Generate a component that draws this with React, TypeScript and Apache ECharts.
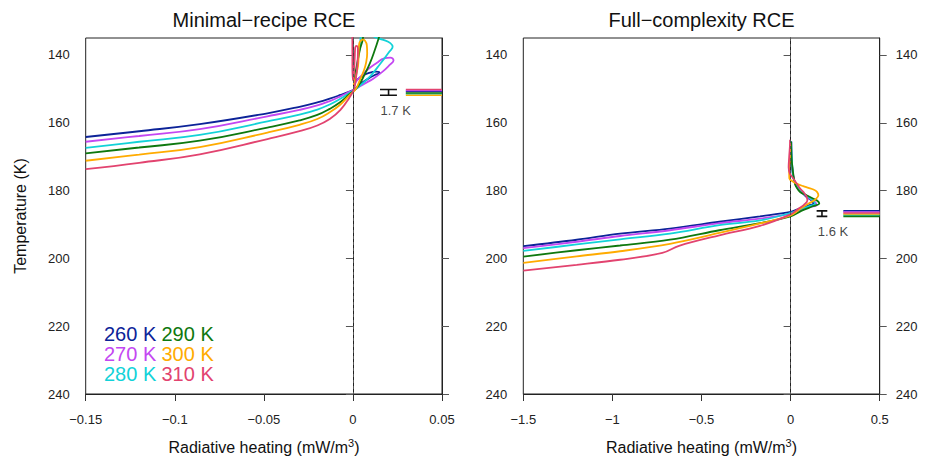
import React, { useEffect, useRef } from "react";
import * as echarts from "echarts";

const FONT = "'Liberation Sans', Arial, Helvetica, sans-serif";

// SST labels and colours
const sstLabels = ["260 K", "270 K", "280 K", "290 K", "300 K", "310 K"];
const sstColors = ["#0c2398", "#c447f2", "#12d2d8", "#0e780e", "#ffab00", "#e2436f"];

// axis ticks
const xTicksL = [-0.15, -0.1, -0.05, 0, 0.05];
const xTicksR = [-1.5, -1, -0.5, 0, 0.5];
const yTicks = [140, 160, 180, 200, 220, 240];

// Minimal-recipe RCE profiles: [heating (mW/m3), temperature (K)]
const minimal260 = [[-0.15,164.2],[-0.12,162.5],[-0.086,160.4],[-0.048,157.2],[-0.03,155.3],[-0.02,154.0],[-0.013,152.9],[-0.007,151.8],[-0.002,150.8],[0.001,150.1],[0.004,148.6],[0.008,147.2],[0.012,146.0],[0.015,145.3],[0.013,144.9],[0.009,145.3],[0.005,146.3],[0.002,147.5],[0.0005,148.6]];
const minimal270 = [[-0.15,165.6],[-0.12,163.9],[-0.086,161.9],[-0.048,158.1],[-0.03,156.2],[-0.02,154.9],[-0.013,153.6],[-0.007,152.2],[-0.002,150.9],[0.0015,150.0],[0.006,148.6],[0.0114,147.0],[0.0165,145.0],[0.0205,143.0],[0.0228,141.6],[0.021,140.8],[0.0175,141.0],[0.0133,142.4],[0.009,144.0],[0.0056,145.7],[0.0025,147.4],[0.001,148.6]];
const minimal280 = [[-0.15,167.4],[-0.12,165.6],[-0.086,163.6],[-0.048,159.6],[-0.03,157.6],[-0.02,156.1],[-0.013,154.6],[-0.007,152.9],[-0.002,151.2],[0.002,149.9],[0.0095,146.4],[0.014,143.5],[0.017,141.5],[0.0205,139.0],[0.0223,137.6],[0.021,136.5],[0.0175,135.6],[0.0133,135.0],[0.009,134.0],[0.005,134.0],[0.004,137.0],[0.003,141.0],[0.002,145.0],[0.001,148.4]];
const minimal290 = [[-0.15,169.0],[-0.12,167.3],[-0.086,165.3],[-0.048,161.4],[-0.03,159.3],[-0.02,157.7],[-0.013,155.9],[-0.007,153.9],[-0.002,151.6],[0.0015,150.1],[0.0039,148.4],[0.0068,145.5],[0.0095,142.5],[0.012,139.0],[0.0145,135.0],[0.0155,133.0],[0.0062,133.0],[0.0055,135.5],[0.0039,138.5],[0.0017,144.5],[0.0005,148.3]];
const minimal300 = [[-0.15,171.2],[-0.12,169.4],[-0.086,167.2],[-0.048,162.9],[-0.03,160.6],[-0.02,158.9],[-0.013,156.9],[-0.007,154.6],[-0.002,151.9],[0.0015,150.1],[0.0039,147.4],[0.0062,144.5],[0.0073,142.5],[0.008,139.5],[0.0078,137.1],[0.0068,135.8],[0.0055,135.5],[0.0042,135.9],[0.0035,136.8],[0.0032,139.5],[0.003,142.5],[0.0022,145.0],[0.0011,147.4],[0.0004,148.8]];
const minimal310 = [[-0.15,173.7],[-0.12,171.8],[-0.086,169.3],[-0.048,164.8],[-0.03,162.5],[-0.02,160.8],[-0.013,158.9],[-0.007,156.2],[-0.002,152.6],[0.0005,150.2],[0.0018,146.5],[0.0026,142.0],[0.0028,139.0],[0.0022,137.3],[0.0013,137.8],[0.001,141.0],[0.0005,145.5],[0.0,147.5],[-0.0003,143.0],[-0.0003,138.0],[-0.0003,133.0]];

// Full-complexity RCE profiles
const full260 = [[-1.5,196.4],[-1.2,194.5],[-0.957,192.7],[-0.677,191.2],[-0.4,189.2],[-0.172,187.6],[0,186.3],[0.05,185.3],[0.1,184.4],[0.128,183.8],[0.115,182.8],[0.09,181.9],[0.06,180.4],[0.034,178.9],[0.02,177.0],[0.012,175.0],[0.006,171.0],[0.004,168.1],[0.003,165.5]];
const full270 = [[-1.5,197.0],[-1.2,195.1],[-0.957,193.4],[-0.677,191.7],[-0.4,189.6],[-0.172,188.3],[0,186.8],[0.06,185.6],[0.11,184.8],[0.146,184.3],[0.135,183.3],[0.109,182.4],[0.08,181.2],[0.053,179.9],[0.032,178.5],[0.02,177.0],[0.009,173.1],[0.005,169.0],[0.004,165.5]];
const full280 = [[-1.5,197.8],[-1.2,195.9],[-0.957,194.4],[-0.677,192.7],[-0.4,190.2],[-0.172,188.8],[0,186.6],[0.06,185.4],[0.11,184.5],[0.137,184.0],[0.125,182.9],[0.1,181.9],[0.07,180.7],[0.045,179.4],[0.028,178.0],[0.016,176.4],[0.009,172.5],[0.005,168.5],[0.004,165.5]];
const full290 = [[-1.5,199.5],[-1.2,197.6],[-0.957,196.2],[-0.677,194.5],[-0.4,191.7],[-0.172,189.6],[0,187.6],[0.06,186.0],[0.12,184.7],[0.161,183.8],[0.15,183.0],[0.128,182.4],[0.09,181.4],[0.053,180.4],[0.035,179.2],[0.024,177.9],[0.012,174.0],[0.005,170.1],[0.003,165.5]];
const full300 = [[-1.5,201.3],[-1.2,199.4],[-0.957,197.9],[-0.677,195.7],[-0.4,192.5],[-0.172,189.7],[0,187.3],[0.05,185.5],[0.1,183.9],[0.14,182.6],[0.156,181.4],[0.148,180.4],[0.128,179.7],[0.1,179.2],[0.071,178.7],[0.04,178.1],[0.015,177.4],[-0.007,176.4],[-0.008,174.0],[-0.004,170.1],[-0.002,166.5]];
const full310 = [[-1.5,203.6],[-1.2,201.9],[-0.957,200.4],[-0.72,198.4],[-0.626,196.3],[-0.4,193.2],[-0.172,190.4],[0,187.0],[0.04,185.5],[0.075,184.2],[0.094,182.9],[0.088,181.6],[0.071,180.4],[0.05,179.2],[0.034,177.9],[0.012,176.2],[-0.004,175.0],[-0.011,173.1],[-0.008,170.1],[-0.004,167.0],[-0.003,165.0]];

// Zero-crossing temperatures (K) per SST, marked at the right of each panel
const crossMinimal = [150.8, 150.5, 151.5, 151.2, 151.9, 150.2];
const crossFull = [186.0, 186.3, 187.2, 187.6, 186.9, 186.6];
const crossSpanMinimal = [0.0297, 0.05];
const crossSpanFull = [0.296, 0.5];
// range bar: [xLeft, xCenter, xRight]
const rangeBarMinimal = [0.0152, 0.02, 0.0247];
const rangeBarFull = [0.146, 0.176, 0.206];
const rangeLabelMinimal = { text: "1.7 K", x: 0.024, y: 156.3 };
const rangeLabelFull = { text: "1.6 K", x: 0.238, y: 192.2 };

const minimalProfiles = [minimal260, minimal270, minimal280, minimal290, minimal300, minimal310];
const fullProfiles = [full260, full270, full280, full290, full300, full310];

const minus = (v: number) => String(v).replace("-", "\u2212");

function rangeBarData(bar: number[], temps: number[]) {
  const t1 = Math.min(...temps);
  const t2 = Math.max(...temps);
  return [[bar[0], t1], [bar[2], t1], [bar[1], t1], [bar[1], t2], [bar[0], t2], [bar[2], t2]];
}

export default function App() {
  const ref = useRef<HTMLDivElement>(null);
  useEffect(() => {
    if (!ref.current) return;
    const chart = echarts.init(ref.current, null, { renderer: "svg" });

    const yAxisBase = (grid: number, pos: string, showLabel: boolean) => ({
      type: "value",
      gridIndex: grid,
      position: pos,
      inverse: true,
      min: 135,
      max: 240,
      axisLine: { show: true, lineStyle: { color: "#222", width: 1 } },
      axisTick: { show: true, inside: false, length: 7, customValues: yTicks, lineStyle: { color: "#555", width: 1 } },
      axisLabel: { show: showLabel, customValues: yTicks, margin: 16, fontSize: 13, fontFamily: FONT, color: "#222" },
      splitLine: { show: false },
    });
    const xAxisBase = (grid: number, min: number, max: number, interval: number) => ({
      type: "value",
      gridIndex: grid,
      min,
      max,
      interval,
      axisLine: { show: true, lineStyle: { color: "#222", width: 1 } },
      axisTick: { show: true, inside: false, length: 7, lineStyle: { color: "#333", width: 1 } },
      axisLabel: { margin: 19, fontSize: 13, fontFamily: FONT, color: "#222", formatter: (v: number) => minus(v) },
      splitLine: { show: false },
    });

    const series: any[] = [];
    const zeroLine = {
      silent: true,
      symbol: ["none", "none"],
      label: { show: false },
      lineStyle: { type: [3, 3], color: "#555", width: 1 },
      data: [{ xAxis: 0 }],
    };
    series.push({ type: "line", name: "zeroL", xAxisIndex: 0, yAxisIndex: 0, data: [], markLine: zeroLine, z: 1 });
    series.push({ type: "line", name: "zeroR", xAxisIndex: 1, yAxisIndex: 2, data: [], markLine: zeroLine, z: 1 });

    minimalProfiles.forEach((d, i) => {
      series.push({
        type: "line", name: "min " + sstLabels[i], xAxisIndex: 0, yAxisIndex: 0, data: d,
        showSymbol: false, symbol: "none", smooth: 0.45, clip: true,
        lineStyle: { color: sstColors[i], width: 1.8 }, z: 3,
      });
      series.push({
        type: "line", name: "minx " + sstLabels[i], xAxisIndex: 0, yAxisIndex: 0,
        data: [[crossSpanMinimal[0], crossMinimal[i]], [crossSpanMinimal[1], crossMinimal[i]]],
        showSymbol: false, symbol: "none", lineStyle: { color: sstColors[i], width: 1.6 }, z: 3,
      });
    });
    fullProfiles.forEach((d, i) => {
      series.push({
        type: "line", name: "full " + sstLabels[i], xAxisIndex: 1, yAxisIndex: 2, data: d,
        showSymbol: false, symbol: "none", smooth: 0.35, clip: true,
        lineStyle: { color: sstColors[i], width: 1.8 }, z: 3,
      });
      series.push({
        type: "line", name: "fullx " + sstLabels[i], xAxisIndex: 1, yAxisIndex: 2,
        data: [[crossSpanFull[0], crossFull[i]], [crossSpanFull[1], crossFull[i]]],
        showSymbol: false, symbol: "none", lineStyle: { color: sstColors[i], width: 1.6 }, z: 3,
      });
    });
    series.push({
      type: "line", name: "barL", xAxisIndex: 0, yAxisIndex: 0, data: rangeBarData(rangeBarMinimal, crossMinimal),
      showSymbol: false, symbol: "none", lineStyle: { color: "#111", width: 1.6 }, z: 4,
    });
    series.push({
      type: "line", name: "barR", xAxisIndex: 1, yAxisIndex: 2, data: rangeBarData(rangeBarFull, crossFull),
      showSymbol: false, symbol: "none", lineStyle: { color: "#111", width: 1.6 }, z: 4,
    });
    const labelSeries = (lab: { text: string; x: number; y: number }, xi: number, yi: number) => ({
      type: "scatter", xAxisIndex: xi, yAxisIndex: yi, data: [[lab.x, lab.y]], symbolSize: 1,
      itemStyle: { color: "rgba(0,0,0,0)" }, silent: true,
      label: { show: true, position: "inside", formatter: lab.text, fontSize: 13, fontFamily: FONT, color: "#111" },
    });
    series.push(labelSeries(rangeLabelMinimal, 0, 0));
    series.push(labelSeries(rangeLabelFull, 1, 2));

    const legendGraphics = sstLabels.map((t, i) => ({
      type: "text",
      x: i < 3 ? 104 : 161.5,
      y: 333.5 + (i % 3) * 20,
      style: { text: t, fill: sstColors[i], font: `20px ${FONT}`, fontSize: 20, fontFamily: FONT, align: "left", verticalAlign: "middle", textAlign: "left", textVerticalAlign: "middle" },
    }));

    const xName = (cx: number) => ({
      type: "text",
      x: cx,
      y: 447,
      style: {
        text: "{a|Radiative heating (mW/m}{b|3}{a|)}",
        rich: {
          a: { fontSize: 16, fontFamily: FONT, fill: "#111", color: "#111", lineHeight: 20, verticalAlign: "middle" },
          b: { fontSize: 11, fontFamily: FONT, fill: "#111", color: "#111", lineHeight: 20, verticalAlign: "top" },
        },
        align: "center", verticalAlign: "middle", textAlign: "center", textVerticalAlign: "middle",
      },
    });

    chart.setOption({
      animation: false,
      backgroundColor: "#ffffff",
      grid: [
        { left: 85.7, top: 38, width: 356.3, height: 356, show: true, borderColor: "#222", borderWidth: 1, backgroundColor: "transparent" },
        { left: 523.3, top: 38, width: 356.4, height: 356, show: true, borderColor: "#222", borderWidth: 1, backgroundColor: "transparent" },
      ],
      xAxis: [xAxisBase(0, xTicksL[0], xTicksL[xTicksL.length - 1], 0.05), xAxisBase(1, xTicksR[0], xTicksR[xTicksR.length - 1], 0.5)],
      yAxis: [yAxisBase(0, "left", true), yAxisBase(0, "right", false), yAxisBase(1, "left", true), yAxisBase(1, "right", true)],
      series,
      graphic: [
        { type: "text", x: 264, y: 20, style: { text: "Minimal\u2212recipe RCE", fill: "#111", font: `20px ${FONT}`, fontSize: 20, fontFamily: FONT, align: "center", verticalAlign: "middle", textAlign: "center", textVerticalAlign: "middle" } },
        { type: "text", x: 701.5, y: 20, style: { text: "Full\u2212complexity RCE", fill: "#111", font: `20px ${FONT}`, fontSize: 20, fontFamily: FONT, align: "center", verticalAlign: "middle", textAlign: "center", textVerticalAlign: "middle" } },
        xName(264),
        xName(701.5),
        { type: "text", x: 20, y: 216, rotation: Math.PI / 2, style: { text: "Temperature (K)", fill: "#111", font: `16px ${FONT}`, fontSize: 16, fontFamily: FONT, align: "center", verticalAlign: "middle", textAlign: "center", textVerticalAlign: "middle" } },
        ...legendGraphics,
      ],
    });
    return () => chart.dispose();
  }, []);
  return <div ref={ref} style={{ position: "absolute", left: 0, top: 0, width: 928, height: 457 }} />;
}
